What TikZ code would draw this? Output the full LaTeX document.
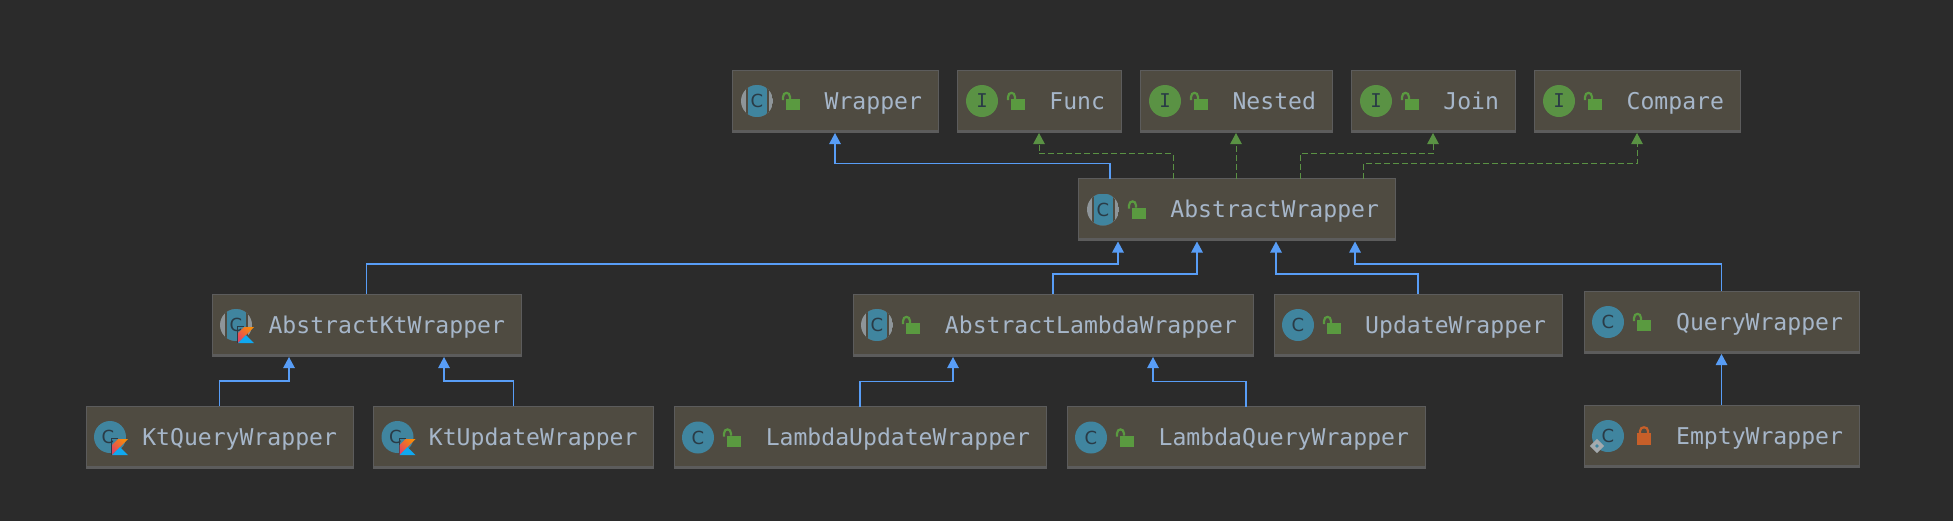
\documentclass[tikz,border=0pt]{standalone}
\usepackage{fontspec}
\setmonofont{DejaVu Sans Mono}
\newfontfamily\iconfont{DejaVu Sans}
\usetikzlibrary{arrows.meta,calc}

\definecolor{canvasbg}{HTML}{2B2B2B}
\definecolor{boxfill}{HTML}{4F4B41}
\definecolor{boxedge}{HTML}{5C5C5C}
\definecolor{labelcol}{HTML}{A6B6C9}
\definecolor{extcol}{HTML}{589DF6}
\definecolor{implcol}{HTML}{5A9244}
\definecolor{tealcol}{HTML}{40859F}
\definecolor{greycol}{HTML}{8E9599}
\definecolor{lettercol}{HTML}{2A3B46}
\definecolor{openlock}{HTML}{5A9A40}
\definecolor{shutlock}{HTML}{C75F29}
\definecolor{ktpink}{HTML}{E24462}
\definecolor{ktorange}{HTML}{F88A0A}
\definecolor{ktblue}{HTML}{10A8F0}

\tikzset{
    classbox/.style = {draw=boxedge, fill=boxfill, line width=1pt, outer sep=0pt,
        align=right, inner xsep=16pt, inner ysep=0pt, minimum height=62pt,
        text=labelcol, text height=18pt, text depth=1.4pt,
        font=\fontsize{23.1pt}{26pt}\selectfont\ttfamily},
    boxfoot/.style = {boxedge, line width=2.5pt},
    extline/.style = {extcol, line width=1.2pt, -{Triangle[length=11pt,width=11.5pt]}, shorten >=1pt},
    implline/.style = {implcol, line width=1pt, dash pattern=on 6pt off 3pt, shorten >=1pt,
        -{Triangle[length=11pt,width=11.5pt,fill=implcol,sep=0pt]}},
    iconletter/.style = {lettercol, inner sep=0pt, font=\fontsize{18pt}{18pt}\selectfont\iconfont},
    classicon/.pic = {
        \fill[tealcol] (0,0) circle[radius=16pt];
        \node[iconletter] (letter) at (0,0) {C};
    },
    ktclassicon/.pic = {
        \fill[tealcol] (0,0) circle[radius=16pt];
        \node[iconletter] (letter) at (-2,0) {C};
    },
    ifaceicon/.pic = {
        \fill[implcol] (0,0) circle[radius=16pt];
        \node[iconletter, font=\fontsize{19pt}{19pt}\selectfont\ttfamily] (letter) at (0,0) {I};
    },
    abstracticon/.pic = {
        \begin{scope}
            \clip (0,0) circle[radius=16pt];
            \fill[greycol] (-16,-16) rectangle (16,16);
            \fill[boxfill] (-11.5,-16) rectangle (11.5,16);
            \fill[tealcol] (-9.5,-16) rectangle (9.5,16);
        \end{scope}
        \node[iconletter] (letter) at (0,0) {C};
    },
    lockopenicon/.pic = {
        \fill[openlock] (29,-2) rectangle (43,9);
        \draw[openlock, line width=2.2pt] (26,-1) -- (26,-4) .. controls (26,-9.5) and (33,-9.5) .. (33,-4) -- (33,-2);
    },
    lockshuticon/.pic = {
        \fill[shutlock] (29,-3) rectangle (43,9);
        \draw[shutlock, line width=2.2pt] (32,-3) -- (32,-5) .. controls (32,-10) and (40,-10) .. (40,-5) -- (40,-3);
    },
    finalmark/.pic = {
        \fill[greycol!80!white, rotate=45] (-5,-5) rectangle (5,5);
        \fill[tealcol] (0,0) circle[radius=1.8pt];
    },
    kotlinmark/.pic = {
        \draw[lettercol, line width=1pt] (8,1.5) -- (1.5,1.5) -- (1.5,18);
        \shade[left color=ktpink, middle color=ktorange, right color=ktorange, shading angle=135]
            (18,2) -- (8,2) -- (2,8) -- (2,18) -- cycle;
        \fill[ktblue] (2,18) -- (10,10) -- (18,18) -- cycle;
    },
}

\begin{document}
\begin{tikzpicture}[x=1pt,y=-1pt]
    \useasboundingbox (0,0) rectangle (1953,520);
    \fill[canvasbg] (-3,-3) rectangle (1956,523);

    % top row
    \node[classbox, text width=174pt] (wrapper) at (835,101) {Wrapper};
    \node[classbox, text width=132pt] (func) at (1039,101) {Func};
    \node[classbox, text width=160pt] (nested) at (1236,101) {Nested};
    \node[classbox, text width=132pt] (join) at (1433,101) {Join};
    \node[classbox, text width=174pt] (compare) at (1637,101) {Compare};

    \node[classbox, text width=285pt] (abstract) at (1236.5,209.5) {AbstractWrapper};

    % middle row
    \node[classbox, text width=277pt] (abstractkt) at (366.5,325) {AbstractKtWrapper};
    \node[classbox, text width=368pt] (abstractlambda) at (1053,325) {AbstractLambdaWrapper};
    \node[classbox, text width=256pt] (update) at (1418,325) {UpdateWrapper};
    \node[classbox, text width=243pt] (query) at (1721.5,322) {QueryWrapper};

    % bottom row
    \node[classbox, text width=235pt] (ktquery) at (219.5,437) {KtQueryWrapper};
    \node[classbox, text width=248pt] (ktupdate) at (513.5,437) {KtUpdateWrapper};
    \node[classbox, text width=340pt] (lambdaupdate) at (860,437.5) {LambdaUpdateWrapper};
    \node[classbox, text width=326pt] (lambdaquery) at (1246,437.5) {LambdaQueryWrapper};
    \node[classbox, text width=243pt] (empty) at (1721.5,436) {EmptyWrapper};

    \foreach \b in {wrapper,func,nested,join,compare,abstract,abstractkt,abstractlambda,
                    update,query,ktquery,ktupdate,lambdaupdate,lambdaquery,empty}
        \draw[boxfoot] ([yshift=1.2pt]\b.south west) -- ([yshift=1.2pt]\b.south east);

    % icons
    \pic at ([xshift=25pt]wrapper.west) {abstracticon};
    \pic at ([xshift=25pt]abstract.west) {abstracticon};
    \pic at ([xshift=24pt]abstractlambda.west) {abstracticon};
    \pic at ([xshift=25pt]func.west) {ifaceicon};
    \pic at ([xshift=25pt]nested.west) {ifaceicon};
    \pic at ([xshift=25pt]join.west) {ifaceicon};
    \pic at ([xshift=25pt]compare.west) {ifaceicon};
    \pic at ([xshift=24pt]update.west) {classicon};
    \pic at ([xshift=24pt]query.west) {classicon};
    \pic at ([xshift=24pt]lambdaupdate.west) {classicon};
    \pic at ([xshift=24pt]lambdaquery.west) {classicon};
    \pic at ([xshift=24pt]empty.west) {classicon};

    \foreach \b/\s in {wrapper/25pt,abstract/25pt,abstractlambda/24pt,func/25pt,nested/25pt,join/25pt,
                       compare/25pt,update/24pt,query/24pt,lambdaupdate/24pt,lambdaquery/24pt}
        \pic at ([xshift=\s]\b.west) {lockopenicon};
    \pic at ([xshift=24pt]empty.west) {lockshuticon};
    \pic at ([xshift=13pt,yshift=-10pt]empty.west) {finalmark};

    % kotlin classes
    \pic at ([xshift=24pt]abstractkt.west) {abstracticon};
    \pic at ([xshift=24pt]abstractkt.west) {kotlinmark};
    \pic at ([xshift=24pt]ktquery.west) {ktclassicon};
    \pic at ([xshift=24pt]ktquery.west) {kotlinmark};
    \pic at ([xshift=24pt]ktupdate.west) {ktclassicon};
    \pic at ([xshift=24pt]ktupdate.west) {kotlinmark};

    % extends
    \draw[extline] ([xshift=-126.5pt]abstract.north) -- ++(0,-15) -| (wrapper.south);
    \draw[extline] (abstractkt.north) -- ++(0,-30) -| ([xshift=-118.5pt]abstract.south);
    \draw[extline] (abstractlambda.north) -- ++(0,-20) -| ([xshift=-39.5pt]abstract.south);
    \draw[extline] (update.north) -- ++(0,-20) -| ([xshift=39.5pt]abstract.south);
    \draw[extline] (query.north) -- ++(0,-27) -| ([xshift=118.5pt]abstract.south);
    \draw[extline] (ktquery.north) -- ++(0,-25) -| ([xshift=-77.5pt]abstractkt.south);
    \draw[extline] (ktupdate.north) -- ++(0,-25) -| ([xshift=77.5pt]abstractkt.south);
    \draw[extline] (lambdaupdate.north) -- ++(0,-25) -| ([xshift=-100pt]abstractlambda.south);
    \draw[extline] (lambdaquery.north) -- ++(0,-25) -| ([xshift=100pt]abstractlambda.south);
    \draw[extline] (empty.north) -- (query.south);

    % implements
    \draw[implline] ([xshift=-63.5pt]abstract.north) -- ++(0,-25) -| (func.south);
    \draw[implline] (abstract.north -| nested.south) -- (nested.south);
    \draw[implline] ([xshift=63.5pt]abstract.north) -- ++(0,-25) -| (join.south);
    \draw[implline] ([xshift=126.5pt]abstract.north) -- ++(0,-15) -| (compare.south);
\end{tikzpicture}
\end{document}
